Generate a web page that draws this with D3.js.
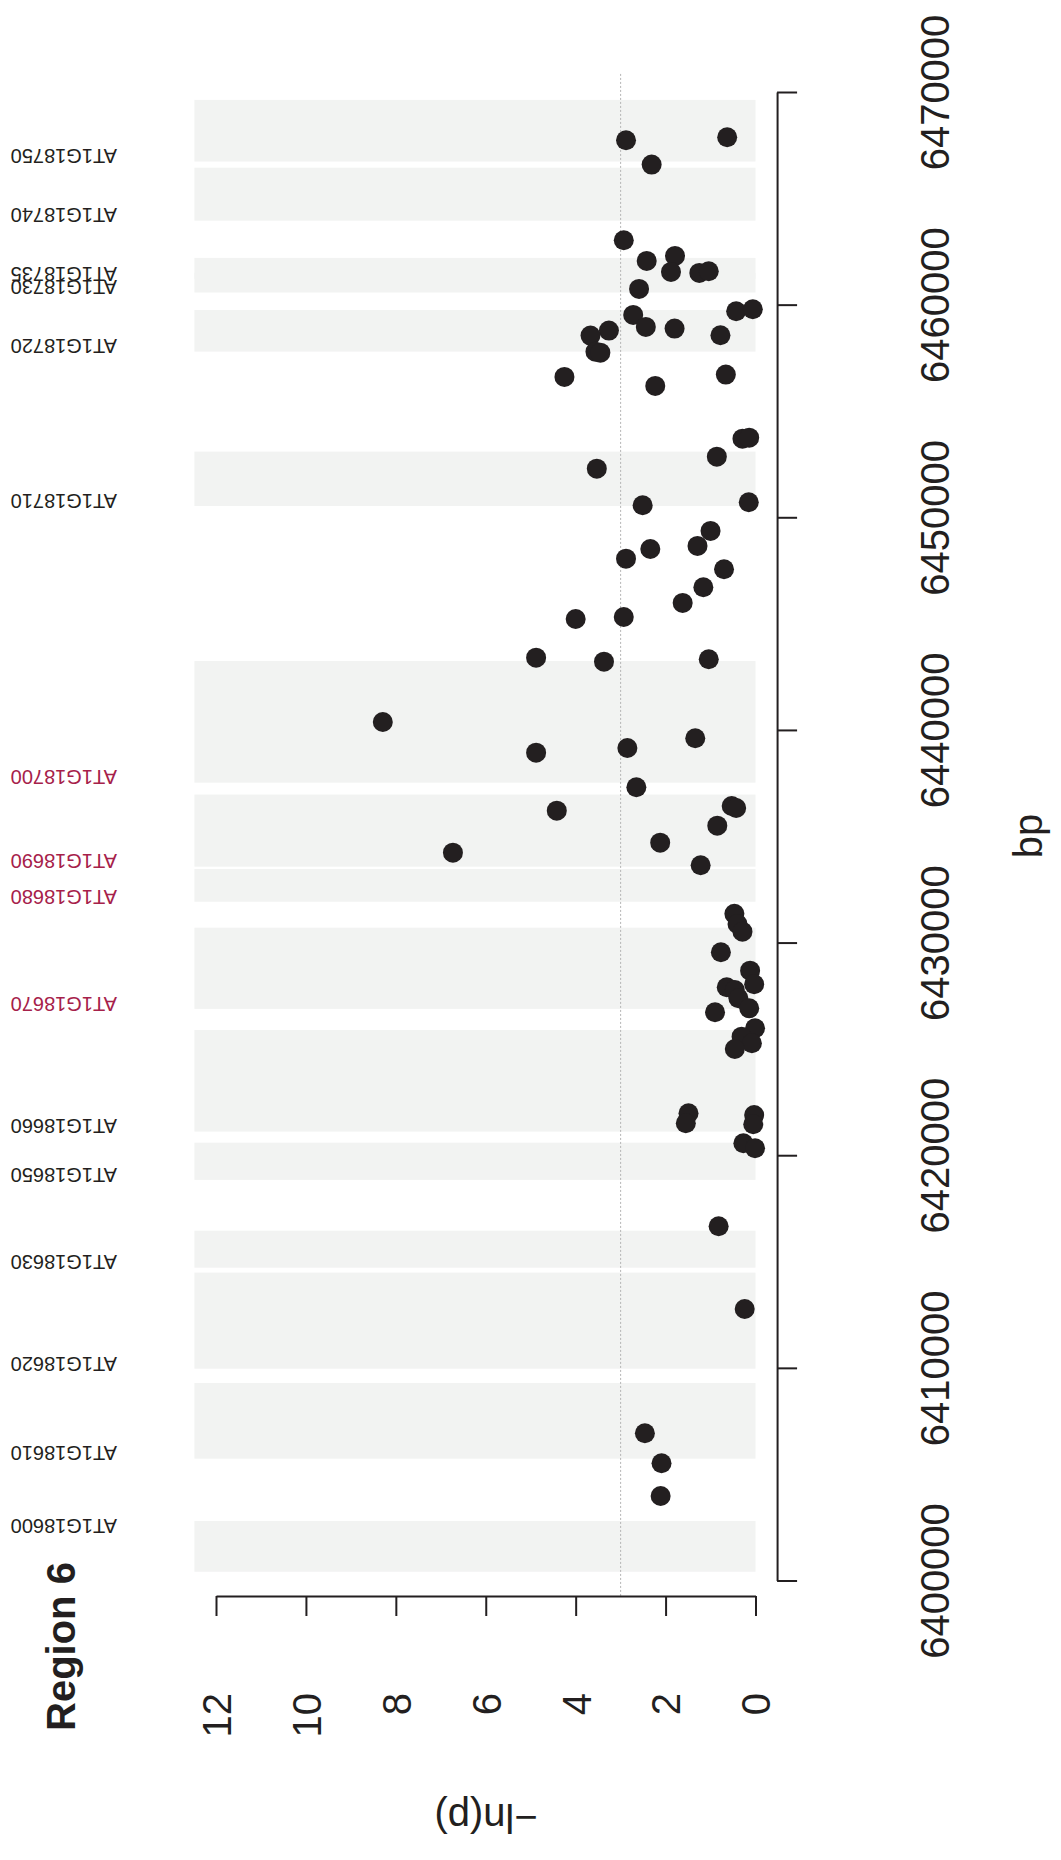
<!DOCTYPE html>
<html>
<head>
<meta charset="utf-8">
<script src="https://cdn.jsdelivr.net/npm/d3@7"></script>
<style>
  html, body { margin: 0; padding: 0; background: #ffffff; }
  svg { display: block; }
</style>
</head>
<body>
<svg id="chart" width="1061" height="1860"></svg>
<script>
// ---- Genes in the window (bp coordinates) ----
const geneIds = ["AT1G18600", "AT1G18610", "AT1G18620", "AT1G18630", "AT1G18650",
                 "AT1G18660", "AT1G18670", "AT1G18680", "AT1G18690", "AT1G18700",
                 "AT1G18710", "AT1G18720", "AT1G18730", "AT1G18735", "AT1G18740",
                 "AT1G18750"];
const geneStart = [6400410, 6405730, 6409960, 6414710, 6418840,
                   6421110, 6426880, 6431920, 6433570, 6437520,
                   6450530, 6457790, 6460570, 6461210, 6463950,
                   6466730];
const geneEnd = [6402800, 6409290, 6414480, 6416450, 6420590,
                 6425890, 6430700, 6433460, 6436960, 6443240,
                 6453090, 6459750, 6461500, 6462200, 6466440,
                 6469630];
const geneStrand = ["-", "+", "+", "+", "+",
                    "+", "+", "+", "+", "+",
                    "+", "+", "+", "+", "+",
                    "+"];
const highlightedGenes = ["AT1G18670", "AT1G18680", "AT1G18690", "AT1G18700"];

// ---- SNP associations: position (bp) and -ln(p) ----
const snpPos = [6467874, 6467733, 6466585, 6463030, 6462291, 6462056, 6461539, 6461492,
                6461572, 6460739, 6459691, 6459785, 6459516, 6458952, 6458873, 6458562,
                6458779, 6458543, 6457790, 6457743, 6456601, 6456177, 6456709, 6453699,
                6453746, 6452852, 6452288, 6450567, 6450708, 6449358, 6448511, 6448653,
                6448055, 6447556, 6446710, 6445972, 6445219, 6445313, 6443399, 6443211,
                6443324, 6440375, 6438931, 6439152, 6439609, 6437304, 6436425, 6436331,
                6436204, 6435498, 6434699, 6434228, 6433636, 6431350, 6430875, 6430513,
                6429544, 6428679, 6428039, 6427898, 6427771, 6427381, 6426911, 6426723,
                6425970, 6425575, 6425264, 6424997, 6421972, 6421502, 6421892, 6421455,
                6420561, 6420326, 6416658, 6412769, 6406923, 6405512, 6403974];
const snpScore = [0.63, 2.88, 2.31, 2.93, 1.79, 2.42, 1.88, 1.25,
                  1.04, 2.59, 0.43, 0.06, 2.72, 2.44, 1.80, 0.78,
                  3.26, 3.67, 3.56, 3.45, 4.25, 2.23, 0.66, 0.29,
                  0.14, 0.86, 3.53, 2.51, 0.15, 1.00, 2.34, 1.29,
                  2.88, 0.70, 1.16, 1.62, 4.00, 2.93, 4.88, 3.37,
                  1.04, 8.29, 4.88, 2.85, 1.34, 2.65, 0.53, 0.43,
                  4.42, 0.85, 2.12, 6.73, 1.22, 0.47, 0.40, 0.29,
                  0.77, 0.12, 0.03, 0.64, 0.46, 0.38, 0.14, 0.90,
                  0.01, 0.31, 0.08, 0.46, 1.49, 1.55, 0.03, 0.05,
                  0.27, 0.01, 0.82, 0.24, 2.46, 2.09, 2.11];

// ---- Axes ----
const bpTicks = [6400000, 6410000, 6420000, 6430000, 6440000, 6450000, 6460000, 6470000];
const scoreTicks = [0, 2, 4, 6, 8, 10, 12];
const threshold = 3;
const plotBp = [6399270, 6470850];      // plotting window along the bp axis
const plotScore = [-0.48, 12.48];        // plotting window along the -ln(p) axis
const titleText = "Region 6";
const bpLabel = "bp";
const scoreLabel = "\u2212ln(p)";

// ---- Styling ----
const font = "'Liberation Sans', Arial, Helvetica, sans-serif";
const ink = "#231f20";
const bandFill = "#f2f3f2";
const highlightInk = "#a6214a";

const svg = d3.select("#chart");

// The chart is laid out sideways: bp runs bottom-to-top, -ln(p) runs right-to-left.
const bpScale = d3.scaleLinear().domain([6400000, 6470000]).range([1580.5, 92]);
const scoreScale = d3.scaleLinear().domain([0, 12]).range([755.5, 216]);

const genes = geneIds.map((id, i) => ({
  id, start: geneStart[i], end: geneEnd[i], strand: geneStrand[i],
  hi: highlightedGenes.includes(id)
}));
const snps = snpPos.map((p, i) => ({ pos: p, score: snpScore[i] }));

// Gene bands
svg.append("g")
  .selectAll("rect")
  .data(genes)
  .join("rect")
  .attr("x", scoreScale(plotScore[1]))
  .attr("width", scoreScale(0) - scoreScale(plotScore[1]))
  .attr("y", d => bpScale(d.end))
  .attr("height", d => bpScale(d.start) - bpScale(d.end))
  .attr("fill", bandFill);

// Significance threshold
svg.append("line")
  .attr("x1", scoreScale(threshold)).attr("x2", scoreScale(threshold))
  .attr("y1", bpScale(plotBp[1])).attr("y2", bpScale(plotBp[0]))
  .attr("stroke", "#b4b4b4")
  .attr("stroke-width", 1)
  .attr("stroke-dasharray", "2,2");

// Gene names, placed at the transcription start
svg.append("g")
  .selectAll("text")
  .data(genes)
  .join("text")
  .attr("transform", d => {
    const tss = d.strand === "+" ? d.start : d.end;
    const y = bpScale(tss) + (d.strand === "+" ? -5 : 5);
    return `translate(117,${y}) rotate(180)`;
  })
  .attr("dy", "0.36em")
  .attr("text-anchor", "start")
  .attr("font-family", font)
  .attr("font-size", 20)
  .attr("fill", d => d.hi ? highlightInk : ink)
  .text(d => d.id);

// SNP points
svg.append("g")
  .selectAll("circle")
  .data(snps)
  .join("circle")
  .attr("cx", d => scoreScale(d.score))
  .attr("cy", d => bpScale(d.pos))
  .attr("r", 10)
  .attr("fill", ink);

// bp axis
const bpAxis = svg.append("g")
  .attr("transform", `translate(${scoreScale(plotScore[0])},0)`)
  .call(d3.axisRight(bpScale).tickValues(bpTicks).tickFormat(d3.format("d"))
        .tickSize(20).tickSizeOuter(0));
bpAxis.attr("font-family", font).attr("font-size", 40).attr("color", ink);
bpAxis.selectAll("path, line").attr("stroke-width", 2);
bpAxis.selectAll(".tick text")
  .attr("x", null)
  .attr("dy", "0.36em")
  .attr("transform", "translate(158,0) rotate(-90)")
  .attr("text-anchor", "middle");

// -ln(p) axis
const scoreAxis = svg.append("g")
  .attr("transform", `translate(0,${bpScale(plotBp[0])})`)
  .call(d3.axisBottom(scoreScale).tickValues(scoreTicks).tickFormat(d3.format("d"))
        .tickSize(20).tickSizeOuter(0));
scoreAxis.attr("font-family", font).attr("font-size", 40).attr("color", ink);
scoreAxis.selectAll("path, line").attr("stroke-width", 2);
scoreAxis.selectAll(".tick text")
  .attr("y", null)
  .attr("dy", "0.36em")
  .attr("transform", "translate(0,97) rotate(-90)")
  .attr("text-anchor", "end");

// Axis titles
svg.append("text")
  .attr("transform", "translate(1042,836) rotate(-90)")
  .attr("text-anchor", "middle")
  .attr("font-family", font)
  .attr("font-size", 40)
  .attr("fill", ink)
  .text(bpLabel);

svg.append("text")
  .attr("transform", "translate(486,1803.5) rotate(180)")
  .attr("text-anchor", "middle")
  .attr("font-family", font)
  .attr("font-size", 40)
  .attr("fill", ink)
  .text(scoreLabel);

// Panel title
svg.append("text")
  .attr("transform", "translate(74.6,1731) rotate(-90)")
  .attr("text-anchor", "start")
  .attr("font-family", font)
  .attr("font-size", 40)
  .attr("font-weight", "bold")
  .attr("fill", ink)
  .text(titleText);
</script>
</body>
</html>
